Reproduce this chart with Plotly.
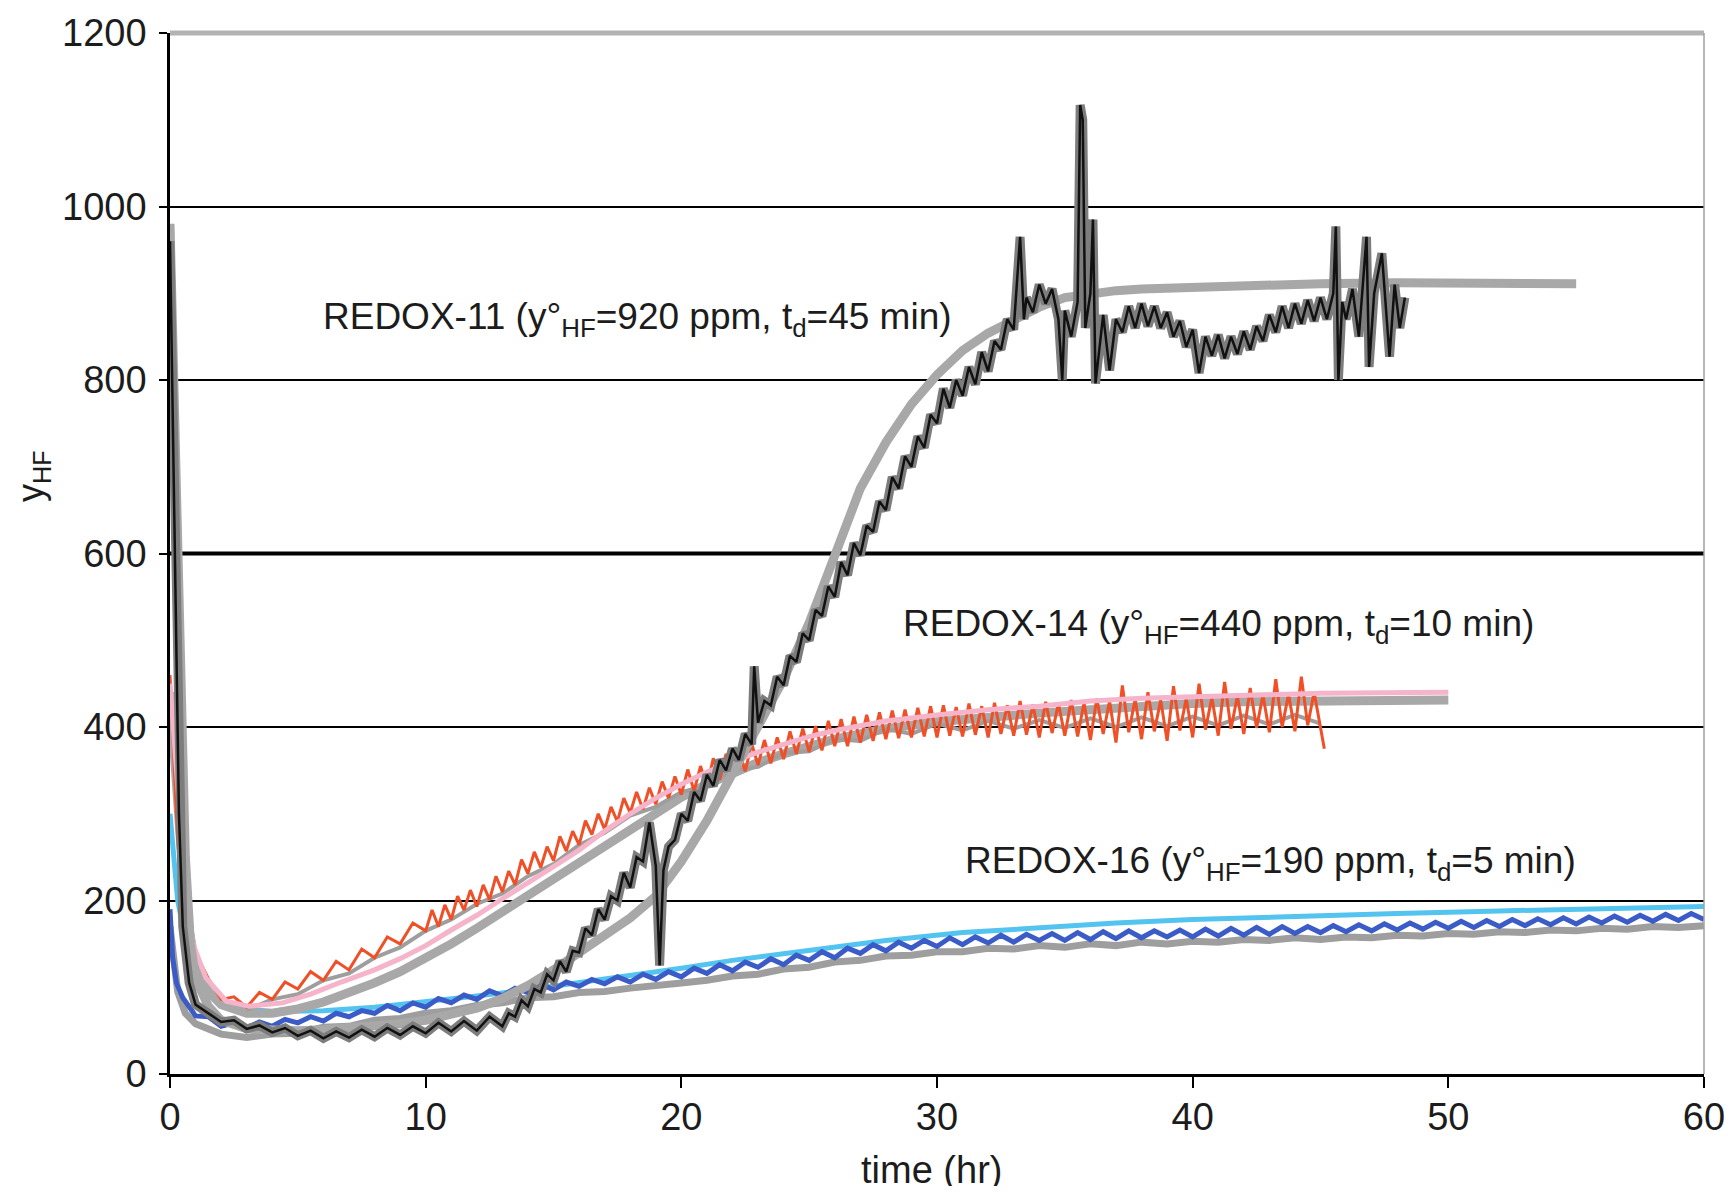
import plotly.graph_objects as go

# ---------------- data ----------------
# REDOX-16 measured (blue): (time hr, y_HF ppm)
BLUE_DATA = [(0, 190), (0.1, 135), (0.25, 105),
    (0.5, 88), (1.0, 67), (1.5, 66), (2.0, 55), (2.5, 59), (3.0, 53), (3.5, 60), (4.0, 55), (4.5, 63), (5.0, 59),
    (5.5, 66), (6.0, 61), (6.5, 70), (7.0, 66), (7.5, 73), (8.0, 70), (8.5, 79), (9.0, 73), (9.5, 82), (10.0, 77),
    (10.5, 87), (11.0, 82), (11.5, 91), (12.0, 86), (12.5, 96), (13.0, 90), (13.5, 99), (14.0, 94), (14.5, 104), (15.0, 97),
    (15.5, 106), (16.0, 101), (16.5, 109), (17.0, 104), (17.5, 112), (18.0, 106), (18.5, 115), (19.0, 109), (19.5, 118), (20.0, 112),
    (20.5, 122), (21.0, 116), (21.5, 126), (22.0, 119), (22.5, 129), (23.0, 123), (23.5, 133), (24.0, 126), (24.5, 137), (25.0, 131),
    (25.5, 141), (26.0, 134), (26.5, 145), (27.0, 139), (27.5, 149), (28.0, 142), (28.5, 152), (29.0, 145), (29.5, 154), (30.0, 147),
    (30.5, 157), (31.0, 149), (31.5, 158), (32.0, 151), (32.5, 160), (33.0, 152), (33.5, 161), (34.0, 154), (34.5, 162), (35.0, 154),
    (35.5, 163), (36.0, 155), (36.5, 164), (37.0, 156), (37.5, 165), (38.0, 157), (38.5, 165), (39.0, 158), (39.5, 166), (40.0, 158),
    (40.5, 167), (41.0, 159), (41.5, 168), (42.0, 160), (42.5, 169), (43.0, 161), (43.5, 170), (44.0, 162), (44.5, 170), (45.0, 163),
    (45.5, 171), (46.0, 164), (46.5, 172), (47.0, 165), (47.5, 173), (48.0, 166), (48.5, 174), (49.0, 167), (49.5, 175), (50.0, 168),
    (50.5, 176), (51.0, 169), (51.5, 177), (52.0, 170), (52.5, 178), (53.0, 171), (53.5, 179), (54.0, 172), (54.5, 180), (55.0, 173),
    (55.5, 181), (56.0, 174), (56.5, 182), (57.0, 175), (57.5, 183), (58.0, 176), (58.5, 184), (59.0, 177), (59.5, 185), (60.0, 178)]

# REDOX-16 grey shadow under the measured trace
GREY16_DATA = [(0, 170), (0.3, 95), (0.6, 70), (1, 58), (2, 46), (3, 42), (4, 46), (5, 47), (6, 54), (7, 55), (8, 62),
    (9, 64), (10, 70), (11, 73), (12, 79), (13, 82), (14, 88), (15, 89), (16, 94), (17, 95), (18, 99), (19, 101), (20, 105),
    (21, 108), (22, 113), (23, 115), (24, 121), (25, 123), (26, 129), (27, 131), (28, 136), (29, 137), (30, 141), (31, 141),
    (32, 145), (33, 144), (34, 148), (35, 146), (36, 150), (37, 148), (38, 152), (39, 150), (40, 153), (41, 152), (42, 155),
    (43, 154), (44, 157), (45, 155), (46, 158), (47, 157), (48, 160), (49, 159), (50, 162), (51, 161), (52, 164), (53, 163),
    (54, 166), (55, 165), (56, 168), (57, 167), (58, 170), (59, 169), (60, 171)]

# REDOX-16 model (cyan)
CYAN_DATA = [(0, 300), (0.3, 200), (0.7, 140), (1.2, 105), (2, 85), (3, 75), (4, 72), (6, 73), (8, 77), (10, 83),
    (12, 90), (14, 97), (16, 105), (18, 113), (20, 122), (22, 131), (25, 143), (28, 154), (31, 163), (34, 169),
    (37, 174), (40, 178), (44, 182), (48, 185), (52, 188), (56, 191), (60, 193)]

# REDOX-14 measured (red)
RED_DATA = [(0, 460), (0.15, 360), (0.3, 270),
    (0.5, 200), (1.0, 140), (1.5, 110), (2.0, 86), (2.5, 89), (3.0, 77), (3.5, 94), (4.0, 86), (4.5, 106), (5.0, 98),
    (5.5, 118), (6.0, 108), (6.5, 130), (7.0, 120), (7.5, 144), (8.0, 134), (8.5, 158), (9.0, 150), (9.5, 174), (10.0, 165),
    (10.25, 189), (10.5, 170), (10.75, 195), (11.0, 178), (11.25, 205), (11.5, 189), (11.75, 212), (12.0, 193),
    (12.25, 218), (12.5, 201), (12.75, 228), (13.0, 210), (13.25, 234), (13.5, 218), (13.75, 247), (14.0, 231),
    (14.25, 256), (14.5, 238), (14.75, 262), (15.0, 246), (15.25, 274), (15.5, 257), (15.75, 280), (16.0, 264),
    (16.25, 292), (16.5, 276), (16.75, 300), (17.0, 282), (17.25, 308), (17.5, 291), (17.75, 318), (18.0, 301),
    (18.25, 325), (18.5, 305), (18.75, 330), (19.0, 311), (19.25, 337), (19.5, 318), (19.75, 343), (20.0, 322),
    (20.25, 351), (20.5, 326), (20.75, 355), (21.0, 331), (21.25, 364), (21.5, 339), (21.75, 369), (22.0, 343),
    (22.25, 373), (22.5, 349), (22.75, 381), (23.0, 356), (23.25, 385), (23.5, 358), (23.75, 388), (24.0, 363),
    (24.25, 395), (24.5, 369), (24.75, 398), (25.0, 371), (25.25, 401), (25.5, 373), (25.75, 407), (26.0, 378),
    (26.25, 409), (26.5, 378), (26.75, 412), (27.0, 382), (27.25, 414), (27.5, 384), (27.75, 417), (28.0, 386),
    (28.25, 419), (28.5, 387), (28.75, 420), (29.0, 388), (29.25, 422), (29.5, 389), (29.75, 424), (30.0, 388),
    (30.25, 425), (30.5, 390), (30.75, 423), (31.0, 389), (31.25, 427), (31.5, 391), (31.75, 424), (32.0, 388),
    (32.25, 428), (32.5, 392), (32.75, 425), (33.0, 390), (33.25, 430), (33.5, 391), (33.75, 426), (34.0, 388),
    (34.25, 429), (34.5, 393), (34.75, 427), (35.0, 390), (35.25, 431), (35.5, 389), (35.75, 428), (36.0, 385),
    (36.25, 433), (36.5, 392), (36.75, 430), (37.0, 382), (37.25, 448), (37.5, 394), (37.75, 432), (38.0, 386),
    (38.25, 440), (38.5, 395), (38.75, 431), (39.0, 384), (39.25, 447), (39.5, 396), (39.75, 433), (40.0, 388),
    (40.25, 450), (40.5, 397), (40.75, 434), (41.0, 390), (41.25, 452), (41.5, 398), (41.75, 436), (42.0, 392),
    (42.25, 445), (42.5, 399), (42.75, 437), (43.0, 394), (43.25, 455), (43.5, 400), (43.75, 438), (44.0, 395),
    (44.25, 458), (44.5, 402), (44.75, 440), (45.0, 398), (45.15, 375)]

# REDOX-14 grey shadow inside the measured band
GREY14_DATA = [(3, 74), (4, 86), (5, 92), (6, 108), (7, 116), (8, 134), (9, 146), (10, 165), (11, 178), (12, 196),
    (13, 208), (14, 228), (15, 242), (16, 264), (17, 278), (18, 298), (19, 308), (20, 325), (21, 332), (22, 350),
    (23, 354), (24, 370), (25, 372), (26, 386), (27, 384), (28, 398), (29, 392), (30, 404), (31, 396), (32, 407),
    (33, 398), (34, 408), (35, 399), (36, 410), (37, 400), (38, 411), (39, 401), (40, 412), (41, 402), (42, 413),
    (43, 403), (44, 414), (45, 404)]

# REDOX-14 model (grey, thick)
M14_DATA = [(0, 440), (0.3, 300), (0.6, 190), (1, 125), (1.5, 95), (2, 80), (3, 70), (4, 70), (5, 75), (6, 83),
    (7, 93), (8, 105), (9, 118), (10, 133), (11, 150), (12, 168), (13, 187), (14, 205), (15, 224), (16, 243),
    (17, 263), (18, 283), (19, 302), (20, 319), (21, 334), (22, 347), (23, 359), (24, 369), (25, 378), (26, 386),
    (27, 392), (28, 398), (30, 406), (32, 412), (34, 416), (36, 420), (38, 424), (40, 427), (42, 429), (44, 430),
    (46, 431), (48, 431), (50, 431)]

# REDOX-14 model (pink)
PINK_DATA = [(0, 450), (0.3, 330), (0.6, 215), (0.9, 150), (1.4, 111), (2.2, 84), (3.1, 78), (4.4, 82), (5.5, 92),
    (6.7, 106), (8, 120), (9, 133), (10, 148), (11, 166), (12, 183), (13, 202), (14, 220), (15, 239), (16, 258),
    (17, 280), (18, 300), (19, 318), (20, 334), (21, 348), (22, 360), (23, 371), (24, 380), (25, 389), (26, 396),
    (27, 402), (28, 407), (30, 414), (32, 420), (34, 424), (36, 430), (38, 433), (40, 435), (42, 437), (45, 439), (50, 440)]

# REDOX-11 measured (black)
BLACK_DATA = [(0, 960), (0.1, 780), (0.2, 560), (0.35, 300), (0.5, 170), (0.75, 105), (1.0, 80), (1.5, 70),
    (2.0, 60), (2.5, 62), (3.0, 52), (3.5, 56), (4.0, 48), (4.5, 53), (5.0, 44), (5.5, 50), (6.0, 41), (6.5, 49),
    (7.0, 42), (7.5, 51), (8.0, 43), (8.5, 53), (9.0, 45), (9.5, 55), (10.0, 47), (10.5, 59), (11.0, 49), (11.5, 61),
    (12.0, 50), (12.5, 66), (13.0, 55), (13.25, 70), (13.5, 66), (13.75, 85), (14.0, 78), (14.25, 98), (14.5, 94),
    (14.75, 115), (15.0, 108), (15.25, 130), (15.5, 118), (15.75, 142), (16.0, 140), (16.25, 168), (16.5, 160),
    (16.75, 190), (17.0, 178), (17.25, 205), (17.5, 200), (17.75, 232), (18.0, 215), (18.25, 250), (18.5, 245),
    (18.75, 290), (18.9, 262), (19.0, 240), (19.15, 125), (19.3, 235), (19.5, 262), (19.75, 270), (20.0, 300),
    (20.25, 292), (20.5, 325), (20.75, 315), (21.0, 345), (21.25, 332), (21.5, 362), (21.75, 350), (22.0, 375),
    (22.25, 362), (22.5, 392), (22.75, 380), (22.85, 470), (23.0, 405), (23.25, 430), (23.5, 425), (23.75, 458),
    (24.0, 448), (24.25, 482), (24.5, 475), (24.75, 508), (25.0, 500), (25.25, 535), (25.5, 528), (25.75, 562),
    (26.0, 550), (26.25, 590), (26.5, 575), (26.75, 612), (27.0, 598), (27.25, 632), (27.5, 625), (27.75, 660),
    (28.0, 650), (28.25, 688), (28.5, 675), (28.75, 712), (29.0, 700), (29.25, 735), (29.5, 722), (29.75, 760),
    (30.0, 750), (30.25, 790), (30.5, 768), (30.75, 800), (31.0, 782), (31.25, 815), (31.5, 795), (31.75, 832),
    (32.0, 810), (32.25, 845), (32.5, 835), (32.75, 870), (33.0, 858), (33.25, 965), (33.4, 870), (33.5, 895),
    (33.75, 878), (34.0, 910), (34.25, 888), (34.5, 905), (34.75, 870), (34.9, 800), (35.0, 880), (35.25, 850),
    (35.5, 890), (35.6, 1117), (35.7, 1100), (35.8, 860), (36.0, 900), (36.1, 985), (36.2, 796), (36.5, 875),
    (36.75, 811), (37.0, 870), (37.25, 855), (37.5, 885), (37.75, 860), (38.0, 888), (38.25, 862), (38.5, 885),
    (38.75, 860), (39.0, 878), (39.25, 850), (39.5, 868), (39.75, 838), (40.0, 858), (40.25, 808), (40.5, 850),
    (40.75, 828), (41.0, 852), (41.25, 825), (41.5, 850), (41.75, 830), (42.0, 856), (42.25, 835), (42.5, 862),
    (42.75, 845), (43.0, 875), (43.25, 855), (43.5, 885), (43.75, 860), (44.0, 888), (44.25, 865), (44.5, 892),
    (44.75, 868), (45.0, 895), (45.25, 870), (45.5, 900), (45.6, 977), (45.7, 800), (45.85, 890), (46.0, 870),
    (46.25, 905), (46.5, 850), (46.8, 965), (46.9, 815), (47.1, 900), (47.4, 946), (47.6, 860), (47.7, 827),
    (47.9, 910), (48.1, 860), (48.3, 895)]

# REDOX-11 model (grey, thick)
M11_DATA = [(0, 980), (0.2, 700), (0.4, 430), (0.6, 250), (0.8, 150), (1, 110), (1.5, 78), (2, 62), (3, 52),
    (4, 50), (5, 50), (6, 51), (7, 53), (8, 55), (9, 58), (10, 62), (11, 68), (12, 76), (13, 87), (14, 102),
    (15, 120), (16, 140), (17, 160), (18, 180), (19, 205), (20, 245), (21, 292), (22, 345), (23, 400), (24, 455),
    (25, 520), (26, 600), (27, 675), (28, 728), (29, 772), (30, 806), (31, 834), (32, 854), (33, 870), (34, 884),
    (35, 895), (36, 900), (37, 903), (38, 905), (40, 907), (42, 909), (45, 911), (48, 912), (51, 912), (55, 911)]

X_TICKS = [0, 10, 20, 30, 40, 50, 60]
Y_TICKS = [0, 200, 400, 600, 800, 1000, 1200]

LABEL_11 = "REDOX-11 (y°<sub>HF</sub>=920 ppm, t<sub>d</sub>=45 min)"
LABEL_14 = "REDOX-14 (y°<sub>HF</sub>=440 ppm, t<sub>d</sub>=10 min)"
LABEL_16 = "REDOX-16 (y°<sub>HF</sub>=190 ppm, t<sub>d</sub>=5 min)"

# ---------------- styles ----------------
GREY_MODEL = "#a8a8a8"
GREY_SHADOW = "#9e9e9e"
BLUE = "#3b5cc6"
CYAN = "#52c4ef"
RED = "#ef5028"
PINK = "#f5b4c9"
BLACK = "#111111"
FONT = "Liberation Sans, Arial, Helvetica, sans-serif"
TXT = "#1c1c1c"

fig = go.Figure()


def add(data, color, width):
    xs = [p[0] for p in data]
    ys = [p[1] for p in data]
    fig.add_trace(go.Scatter(x=xs, y=ys, mode="lines", line=dict(color=color, width=width),
                             hoverinfo="skip", showlegend=False))


# REDOX-16
add(GREY16_DATA, GREY_SHADOW, 7)
add(CYAN_DATA, CYAN, 5)
add(BLUE_DATA, BLUE, 5)
# REDOX-14
add(M14_DATA, GREY_MODEL, 9)
add(GREY14_DATA, GREY_SHADOW, 4)
add(RED_DATA, RED, 3)
add(PINK_DATA, PINK, 5)
# REDOX-11
add(M11_DATA, GREY_MODEL, 9)
add(BLACK_DATA, "#7d7d7d", 9)
add(BLACK_DATA, BLACK, 2.5)

ann = dict(xref="x", yref="y", showarrow=False, xanchor="left", yanchor="middle",
           font=dict(family=FONT, size=37, color=TXT))
fig.add_annotation(x=5.9, y=870, text=LABEL_11, **ann)
fig.add_annotation(x=28.6, y=516, text=LABEL_14, **ann)
fig.add_annotation(x=31.0, y=243, text=LABEL_16, **ann)

# axis titles
fig.add_annotation(x=-0.089, y=690, xref="paper", yref="y", text="y<sub>HF</sub>", textangle=-90,
                   showarrow=False, xanchor="center", yanchor="middle",
                   font=dict(family=FONT, size=36, color=TXT))
fig.add_annotation(x=29.8, y=-0.092, xref="x", yref="paper", text="time (hr)",
                   showarrow=False, xanchor="center", yanchor="middle",
                   font=dict(family=FONT, size=38, color=TXT))

# frame details: thick 600 line, grey top border, thin grey right border
fig.add_shape(type="line", xref="paper", yref="y", x0=0, x1=1, y0=600, y1=600,
              line=dict(color="black", width=4), layer="below")
fig.add_shape(type="line", xref="paper", yref="paper", x0=0, x1=1, y0=1, y1=1,
              line=dict(color="#b3b3b3", width=5), layer="above")
fig.add_shape(type="line", xref="paper", yref="paper", x0=1, x1=1, y0=0, y1=1,
              line=dict(color="#a0a0a0", width=1.5), layer="above")

# the page body adds an 8 px margin, so the figure is 16 px smaller than the window
fig.update_layout(
    width=1719, height=1178,
    margin=dict(l=162, r=23, t=25, b=112, autoexpand=False),
    paper_bgcolor="white", plot_bgcolor="white",
    showlegend=False,
    font=dict(family=FONT, color=TXT),
    xaxis=dict(range=[0, 60], tickvals=X_TICKS, ticktext=[str(v) for v in X_TICKS],
               showgrid=False, zeroline=False, automargin=False,
               showline=True, linecolor="black", linewidth=3,
               ticks="outside", ticklen=11, tickwidth=2, tickcolor="black",
               tickfont=dict(family=FONT, size=38, color=TXT), ticklabelstandoff=-4),
    yaxis=dict(range=[0, 1200], tickvals=Y_TICKS, ticktext=[str(v) for v in Y_TICKS],
               showgrid=True, gridcolor="black", gridwidth=2, zeroline=False, automargin=False,
               showline=True, linecolor="black", linewidth=2.5,
               ticks="outside", ticklen=8, tickwidth=2, tickcolor="black",
               tickfont=dict(family=FONT, size=38, color=TXT), ticklabelstandoff=5),
)

fig.write_html("out.html")
